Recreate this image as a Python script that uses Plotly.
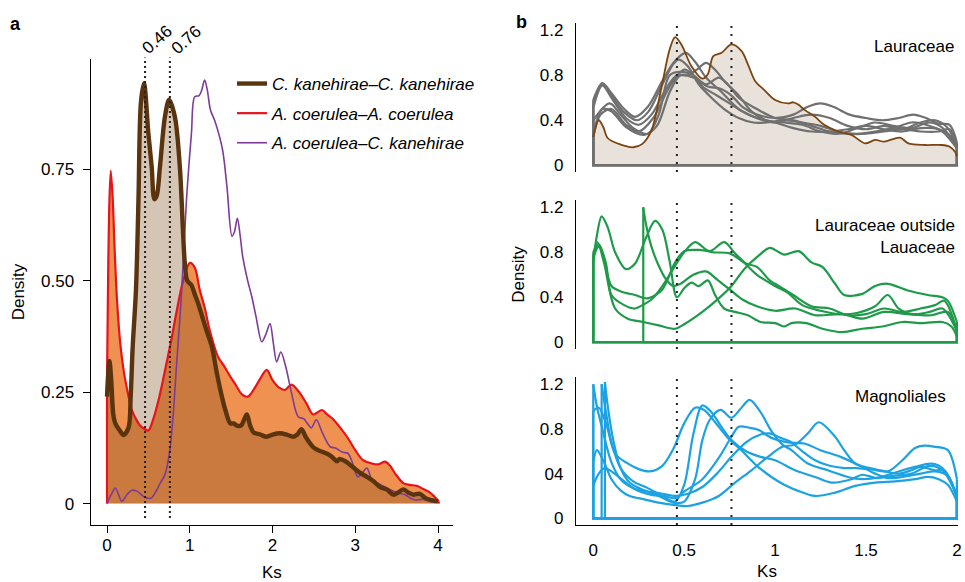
import plotly.graph_objects as go

W, H = 965, 582

# ---------------- Panel a data ----------------
kk_ks = [0.0, 0.03, 0.05, 0.076, 0.1, 0.15, 0.2, 0.26, 0.286, 0.31, 0.35, 0.38, 0.41, 0.447, 0.5, 0.54, 0.572, 0.6, 0.64, 0.7,
         0.75, 0.82, 0.88, 0.94, 0.97, 1.02, 1.06, 1.1, 1.15, 1.2, 1.27, 1.32, 1.37, 1.43, 1.49, 1.53, 1.57, 1.62, 1.66, 1.69,
         1.73, 1.77, 1.85, 1.93, 2.0, 2.09, 2.17, 2.25, 2.3, 2.35, 2.4, 2.49, 2.55, 2.62, 2.68, 2.73, 2.78, 2.81, 2.88, 2.97,
         3.05, 3.14, 3.22, 3.3, 3.38, 3.46, 3.52, 3.58, 3.64, 3.7, 3.78, 3.85, 3.92, 4.0]
kk_dens = [0.24, 0.32, 0.28, 0.2, 0.18, 0.165, 0.154, 0.17, 0.24, 0.35, 0.48, 0.68, 0.9, 0.943, 0.83, 0.756, 0.683, 0.69, 0.756, 0.868,
           0.906, 0.868, 0.756, 0.54, 0.5, 0.49, 0.47, 0.45, 0.42, 0.39, 0.35, 0.3, 0.255, 0.21, 0.18, 0.18, 0.175, 0.175, 0.19, 0.2,
           0.175, 0.16, 0.155, 0.15, 0.155, 0.158, 0.155, 0.15, 0.155, 0.167, 0.15, 0.127, 0.12, 0.115, 0.11, 0.103, 0.095, 0.1, 0.095, 0.082,
           0.07, 0.06, 0.05, 0.037, 0.032, 0.02, 0.025, 0.032, 0.025, 0.02, 0.022, 0.012, 0.008, 0.005]

aa_ks = [0.0, 0.01, 0.025, 0.045, 0.07, 0.09, 0.12, 0.16, 0.2, 0.25, 0.3, 0.35, 0.4, 0.45, 0.5, 0.56, 0.62, 0.68, 0.72, 0.78,
         0.84, 0.92, 1.0, 1.06, 1.12, 1.18, 1.24, 1.34, 1.41, 1.49, 1.56, 1.63, 1.7, 1.77, 1.85, 1.93, 2.0, 2.08, 2.15, 2.23,
         2.33, 2.41, 2.49, 2.6, 2.66, 2.73, 2.82, 2.9, 3.0, 3.09, 3.2, 3.28, 3.36, 3.42, 3.48, 3.58, 3.66, 3.74, 3.82, 3.9,
         3.96, 4.01]
aa_dens = [0.28, 0.45, 0.65, 0.747, 0.68, 0.58, 0.46, 0.36, 0.3, 0.25, 0.21, 0.19, 0.175, 0.168, 0.164, 0.19, 0.23, 0.28, 0.316, 0.37,
           0.43, 0.5, 0.54, 0.53, 0.48, 0.44, 0.39, 0.33, 0.31, 0.285, 0.265, 0.245, 0.24, 0.255, 0.28, 0.3, 0.277, 0.26, 0.255, 0.267,
           0.248, 0.225, 0.2, 0.21, 0.2, 0.19, 0.17, 0.15, 0.12, 0.098, 0.09, 0.088, 0.094, 0.085, 0.068, 0.046, 0.042, 0.04, 0.033, 0.025,
           0.015, 0.005]

ak_ks = [0.0, 0.05, 0.1, 0.14, 0.18, 0.24, 0.3, 0.36, 0.45, 0.53, 0.6, 0.64, 0.7, 0.76, 0.8, 0.84, 0.9, 0.96, 1.02, 1.06,
         1.11, 1.14, 1.18, 1.21, 1.25, 1.3, 1.35, 1.4, 1.45, 1.51, 1.54, 1.575, 1.61, 1.64, 1.7, 1.75, 1.8, 1.87, 1.92, 1.97,
         2.01, 2.05, 2.1, 2.16, 2.23, 2.31, 2.38, 2.42, 2.47, 2.53, 2.6, 2.7, 2.76, 2.8, 2.85, 2.91, 2.97, 3.03, 3.09, 3.14,
         3.2, 3.28, 3.38, 3.5, 3.6, 3.67, 3.73, 3.82, 3.9, 3.97]
ak_dens = [0.0, 0.02, 0.035, 0.02, 0.005, 0.02, 0.03, 0.028, 0.015, 0.012, 0.03, 0.045, 0.065, 0.12, 0.2, 0.31, 0.47, 0.68, 0.83, 0.913,
           0.915, 0.925, 0.95, 0.93, 0.883, 0.86, 0.83, 0.79, 0.71, 0.6, 0.61, 0.64, 0.6, 0.554, 0.5, 0.464, 0.42, 0.363, 0.38, 0.404,
           0.36, 0.318, 0.34, 0.307, 0.248, 0.195, 0.19, 0.18, 0.17, 0.188, 0.16, 0.127, 0.125, 0.12, 0.115, 0.113, 0.09, 0.06, 0.07, 0.08,
           0.055, 0.045, 0.035, 0.025, 0.02, 0.012, 0.008, 0.01, 0.005, 0.002]

peak_ks = [0.46, 0.76]
peak_labels = ["0.46", "0.76"]

a_xticks = [0, 1, 2, 3, 4]
a_yticks = [0, 0.25, 0.5, 0.75]
a_yticktext = ["0", "0.25", "0.50", "0.75"]

legend_names = ["<i>C. kanehirae–C. kanehirae</i>", "<i>A. coerulea–A. coerulea</i>", "<i>A. coerulea–C. kanehirae</i>"]

# ---------------- Panel b data ----------------
b_xticks = [0, 0.5, 1, 1.5, 2]
b_xticktext = ["0", "0.5", "1", "1.5", "2"]
b_yticks = [0, 0.4, 0.8, 1.2]
b_yticktext_1 = ["0", "0.4", "0.8", "1.2"]
b_yticktext_2 = ["0", "0.4", "0.8", "1.2"]
b_yticktext_3 = ["0", "04", "0.8", "1.2"]
b_titles = ["Lauraceae", "Lauraceae outside<br>Lauaceae", "Magnoliales"]

# Lauraceae: C. kanehirae (brown) and other Lauraceae (gray)
laur_ck_ks = [0.0, 0.03, 0.055, 0.08, 0.14, 0.22, 0.27, 0.32, 0.376, 0.42, 0.45, 0.486, 0.54, 0.6, 0.63, 0.66, 0.706, 0.76, 0.816, 0.85,
              0.89, 0.94, 1.0, 1.07, 1.1, 1.127, 1.164, 1.22, 1.27, 1.347, 1.42, 1.495, 1.55, 1.6, 1.687, 1.733, 1.825, 1.917, 1.96, 1.99, 2.0]
laur_ck_dens = [0.25, 0.40, 0.34, 0.24, 0.19, 0.16, 0.19, 0.31, 0.70, 1.03, 1.14, 1.07, 0.88, 0.77, 0.81, 0.97, 1.0, 1.075, 1.015, 0.9,
                0.75, 0.67, 0.58, 0.55, 0.56, 0.54, 0.49, 0.43, 0.36, 0.30, 0.27, 0.195, 0.225, 0.21, 0.245, 0.195, 0.18, 0.18, 0.165, 0.12, 0.08]

laur_g1_ks = [0, 0.05, 0.1, 0.17, 0.23, 0.3, 0.38, 0.45, 0.51, 0.56, 0.62, 0.7, 0.8, 0.9, 1.0, 1.1, 1.2, 1.3, 1.4, 1.5, 1.6, 1.7, 1.8, 1.9, 1.97, 2.0]
laur_g1_dens = [0.58, 0.73, 0.64, 0.5, 0.43, 0.52, 0.75, 0.93, 1.0, 0.92, 0.78, 0.66, 0.5, 0.42, 0.38, 0.33, 0.3, 0.3, 0.32, 0.35, 0.32, 0.3, 0.33, 0.32, 0.25, 0.15]
laur_g2_ks = [0, 0.05, 0.1, 0.17, 0.24, 0.3, 0.38, 0.44, 0.47, 0.52, 0.58, 0.65, 0.72, 0.8, 0.88, 0.95, 1.05, 1.15, 1.25, 1.35, 1.45, 1.55, 1.65, 1.75, 1.83, 1.92, 2.0]
laur_g2_dens = [0.54, 0.72, 0.62, 0.47, 0.40, 0.47, 0.72, 0.9, 0.94, 0.88, 0.72, 0.6, 0.5, 0.42, 0.38, 0.38, 0.4, 0.38, 0.35, 0.3, 0.28, 0.3, 0.33, 0.38, 0.36, 0.3, 0.15]
laur_g3_ks = [0, 0.05, 0.1, 0.18, 0.25, 0.32, 0.4, 0.46, 0.52, 0.57, 0.62, 0.67, 0.72, 0.8, 0.87, 0.95, 1.05, 1.15, 1.25, 1.35, 1.45, 1.55, 1.65, 1.75, 1.85, 1.93, 2.0]
laur_g3_dens = [0.51, 0.71, 0.6, 0.42, 0.36, 0.45, 0.68, 0.8, 0.8, 0.85, 0.91, 0.85, 0.75, 0.62, 0.48, 0.4, 0.38, 0.36, 0.3, 0.28, 0.33, 0.38, 0.35, 0.33, 0.38, 0.32, 0.15]
laur_g4_ks = [0, 0.09, 0.15, 0.22, 0.3, 0.36, 0.42, 0.48, 0.55, 0.62, 0.69, 0.74, 0.8, 0.9, 1.0, 1.1, 1.2, 1.3, 1.4, 1.5, 1.6, 1.7, 1.8, 1.9, 1.96, 2.0]
laur_g4_dens = [0.40, 0.55, 0.45, 0.33, 0.28, 0.45, 0.8, 0.83, 0.8, 0.72, 0.78, 0.72, 0.6, 0.5, 0.42, 0.4, 0.35, 0.3, 0.28, 0.28, 0.3, 0.32, 0.3, 0.3, 0.32, 0.15]
laur_g5_ks = [0, 0.05, 0.1, 0.18, 0.28, 0.35, 0.42, 0.48, 0.55, 0.63, 0.7, 0.76, 0.82, 0.9, 1.0, 1.1, 1.18, 1.25, 1.32, 1.41, 1.5, 1.59, 1.68, 1.76, 1.83, 1.9, 1.96, 2.0]
laur_g5_dens = [0.28, 0.5, 0.48, 0.34, 0.27, 0.35, 0.65, 0.8, 0.78, 0.7, 0.68, 0.62, 0.52, 0.45, 0.42, 0.45, 0.52, 0.55, 0.52, 0.45, 0.42, 0.4, 0.42, 0.45, 0.42, 0.37, 0.36, 0.2]
laur_g6_ks = [0, 0.04, 0.1, 0.18, 0.25, 0.33, 0.42, 0.5, 0.55, 0.6, 0.68, 0.75, 0.82, 0.9, 1.0, 1.1, 1.2, 1.3, 1.4, 1.5, 1.6, 1.7, 1.8, 1.88, 1.95, 2.0]
laur_g6_dens = [0.25, 0.45, 0.5, 0.36, 0.3, 0.42, 0.7, 0.85, 0.8, 0.7, 0.62, 0.55, 0.48, 0.42, 0.38, 0.42, 0.45, 0.42, 0.35, 0.32, 0.35, 0.32, 0.38, 0.4, 0.33, 0.15]

# Lauraceae outside Lauraceae (green)
out_1_ks = [0, 0.02, 0.046, 0.08, 0.12, 0.18, 0.23, 0.29, 0.34, 0.38, 0.42, 0.46, 0.5, 0.54, 0.58, 0.63, 0.67, 0.72, 0.78, 0.85,
            0.92, 1.0, 1.05, 1.09, 1.17, 1.26, 1.37, 1.48, 1.59, 1.7, 1.81, 1.92, 1.97, 2.0]
out_1_dens = [0.70, 0.95, 1.12, 1.02, 0.8, 0.65, 0.7, 0.93, 1.08, 1.0, 0.72, 0.40, 0.48, 0.53, 0.5, 0.55, 0.42, 0.3, 0.27, 0.24,
              0.18, 0.17, 0.14, 0.17, 0.17, 0.12, 0.09, 0.12, 0.14, 0.18, 0.17, 0.18, 0.14, 0.05]
out_2_ks = [0.275, 0.29, 0.32, 0.36, 0.4, 0.44, 0.48, 0.55, 0.62, 0.68, 0.75, 0.82, 0.9, 1.0, 1.11, 1.22, 1.37, 1.48, 1.6, 1.73, 1.86, 1.95, 2.0]
out_2_dens = [1.2, 1.05, 0.85, 0.68, 0.56, 0.5, 0.52, 0.6, 0.63, 0.56, 0.47, 0.38, 0.32, 0.28, 0.3, 0.24, 0.25, 0.21, 0.27, 0.25, 0.24, 0.27, 0.1]
out_3_ks = [0, 0.02, 0.05, 0.1, 0.156, 0.23, 0.3, 0.38, 0.45, 0.5, 0.59, 0.66, 0.75, 0.84, 0.9, 0.97, 1.0, 1.1, 1.2, 1.3, 1.4, 1.5, 1.6, 1.7, 1.8, 1.88, 1.93, 2.0]
out_3_dens = [0.75, 0.89, 0.8, 0.5, 0.45, 0.42, 0.39, 0.47, 0.71, 0.81, 0.82, 0.8, 0.79, 0.7, 0.67, 0.55, 0.52, 0.42, 0.32, 0.3, 0.24, 0.25, 0.3, 0.27, 0.3, 0.33, 0.37, 0.1]
out_4_ks = [0, 0.03, 0.07, 0.1, 0.17, 0.23, 0.27, 0.32, 0.38, 0.45, 0.5, 0.56, 0.64, 0.72, 0.78, 0.83, 0.9, 1.0, 1.07, 1.15,
            1.25, 1.35, 1.45, 1.55, 1.62, 1.68, 1.76, 1.85, 1.92, 2.0]
out_4_dens = [0.8, 0.87, 0.7, 0.42, 0.33, 0.3, 0.33, 0.38, 0.5, 0.68, 0.8, 0.89, 0.81, 0.89, 0.79, 0.71, 0.6, 0.5, 0.44, 0.33,
              0.28, 0.25, 0.26, 0.32, 0.42, 0.3, 0.25, 0.27, 0.3, 0.1]
out_5_ks = [0, 0.03, 0.06, 0.12, 0.19, 0.275, 0.36, 0.45, 0.5, 0.6, 0.69, 0.76, 0.83, 0.91, 0.97, 1.05, 1.13, 1.2, 1.26, 1.33,
            1.38, 1.48, 1.55, 1.62, 1.73, 1.84, 1.92, 1.95, 2.0]
out_5_dens = [0.75, 0.85, 0.7, 0.3, 0.21, 0.18, 0.15, 0.12, 0.16, 0.27, 0.39, 0.5, 0.65, 0.77, 0.84, 0.78, 0.81, 0.71, 0.67, 0.52,
              0.42, 0.43, 0.5, 0.52, 0.46, 0.42, 0.4, 0.37, 0.18]

# Magnoliales (blue)
mag_1_ks = [0, 0.03, 0.07, 0.12, 0.18, 0.25, 0.31, 0.38, 0.44, 0.5, 0.56, 0.61, 0.67, 0.74, 0.82, 0.9, 0.98, 1.05, 1.12, 1.22,
            1.33, 1.44, 1.55, 1.66, 1.77, 1.84, 1.9, 1.95, 2.0]
mag_1_dens = [0.96, 0.99, 0.85, 0.58, 0.5, 0.44, 0.42, 0.47, 0.62, 0.85, 0.99, 0.97, 0.86, 0.72, 0.6, 0.47, 0.37, 0.3, 0.25, 0.2,
              0.23, 0.29, 0.32, 0.33, 0.35, 0.37, 0.35, 0.3, 0.15]
mag_2_ks = [0.046, 0.07, 0.1, 0.15, 0.22, 0.3, 0.38, 0.45, 0.5, 0.55, 0.6, 0.65, 0.7, 0.76, 0.84, 0.92, 1.0, 1.11, 1.22, 1.31,
            1.42, 1.48, 1.56, 1.65, 1.75, 1.85, 1.92, 2.0]
mag_2_dens = [1.2, 0.95, 0.68, 0.45, 0.33, 0.27, 0.2, 0.15, 0.3, 0.75, 1.01, 0.95, 0.83, 0.7, 0.6, 0.55, 0.52, 0.43, 0.37, 0.32,
              0.35, 0.39, 0.36, 0.38, 0.4, 0.47, 0.43, 0.2]
mag_3_ks = [0.064, 0.08, 0.11, 0.15, 0.2, 0.28, 0.36, 0.44, 0.5, 0.56, 0.6, 0.64, 0.7, 0.76, 0.81, 0.86, 0.92, 0.98, 1.04, 1.09,
            1.18, 1.29, 1.4, 1.48, 1.58, 1.7, 1.77, 1.86, 1.92, 2.0]
mag_3_dens = [1.22, 1.0, 0.7, 0.45, 0.32, 0.25, 0.2, 0.14, 0.15, 0.35, 0.7, 0.88, 0.97, 0.9, 0.98, 1.06, 0.95, 0.78, 0.66, 0.61,
              0.49, 0.43, 0.37, 0.35, 0.37, 0.43, 0.46, 0.49, 0.45, 0.2]
mag_4_ks = [0, 0.03, 0.064, 0.1, 0.14, 0.23, 0.32, 0.39, 0.45, 0.5, 0.6, 0.69, 0.76, 0.8, 0.86, 0.91, 0.98, 1.07, 1.16, 1.25,
            1.36, 1.48, 1.55, 1.62, 1.7, 1.8, 1.88, 1.95, 2.0]
mag_4_dens = [0.29, 0.4, 0.45, 0.42, 0.37, 0.26, 0.21, 0.2, 0.18, 0.24, 0.35, 0.54, 0.73, 0.82, 0.81, 0.79, 0.72, 0.68, 0.67, 0.61,
              0.55, 0.46, 0.4, 0.36, 0.37, 0.4, 0.42, 0.38, 0.18]
mag_5_ks = [0, 0.02, 0.06, 0.1, 0.15, 0.2, 0.28, 0.36, 0.44, 0.52, 0.6, 0.69, 0.78, 0.87, 0.96, 1.04, 1.11, 1.18, 1.24, 1.33,
            1.38, 1.44, 1.49, 1.58, 1.68, 1.75, 1.8, 1.88, 1.93, 2.0]
mag_5_dens = [0.5, 0.61, 0.5, 0.35, 0.25, 0.2, 0.17, 0.14, 0.12, 0.11, 0.14, 0.2, 0.32, 0.43, 0.55, 0.64, 0.66, 0.76, 0.86, 0.73,
              0.61, 0.49, 0.46, 0.43, 0.4, 0.43, 0.46, 0.43, 0.43, 0.2]
mag_6_ks = [0, 0.02, 0.05, 0.1, 0.15, 0.22, 0.3, 0.38, 0.45, 0.52, 0.6, 0.68, 0.76, 0.84, 0.92, 0.97, 1.03, 1.08, 1.15, 1.22,
            1.3, 1.38, 1.45, 1.52, 1.62, 1.7, 1.77, 1.82, 1.88, 1.95, 2.0]
mag_6_dens = [1.2, 1.0, 0.8, 0.5, 0.35, 0.27, 0.24, 0.22, 0.2, 0.22, 0.28, 0.4, 0.55, 0.68, 0.75, 0.76, 0.72, 0.69, 0.6, 0.52,
              0.47, 0.45, 0.45, 0.44, 0.42, 0.52, 0.63, 0.65, 0.64, 0.61, 0.35]

# ---------------- Styles ----------------
FONT = "Liberation Sans, Arial, Helvetica, sans-serif"
FS = 17
BROWN_A = "#5a340e"
RED = "#e8141c"
PURPLE = "#7d3b98"
ORANGE_FILL = "rgb(239,145,80)"
BROWN_FILL = "rgba(124,75,25,0.32)"
GRAY = "#707070"
BROWN_B = "#7a4511"
BEIGE = "#e9e2da"
GREEN = "#1f9a4a"
BLUE = "#1ca2e2"


def px2x(p):
    return p / W


def px2y(p):
    return 1 - p / H


fig = go.Figure()


def curve(ks, dens, color, width, xa, ya, **kw):
    fig.add_trace(go.Scatter(x=ks, y=dens, mode="lines", xaxis=xa, yaxis=ya,
                             line=dict(color=color, width=width, shape="spline", smoothing=0.9),
                             hoverinfo="skip", **kw))


def edges(ks, dens, color, width, xa, ya, base=True):
    if base:
        ex = [ks[-1], ks[-1], ks[0], ks[0]]
        ey = [dens[-1], 0, 0, dens[0]]
    else:
        ex = [ks[-1], ks[-1], None, ks[0], ks[0]]
        ey = [dens[-1], 0, None, 0, dens[0]]
    fig.add_trace(go.Scatter(x=ex, y=ey, mode="lines", xaxis=xa, yaxis=ya, showlegend=False,
                             line=dict(color=color, width=width), hoverinfo="skip"))


# ---- Panel a ----
for ks, dens, fc in [(aa_ks, aa_dens, ORANGE_FILL), (kk_ks, kk_dens, BROWN_FILL)]:
    fig.add_trace(go.Scatter(x=ks, y=dens, mode="lines", xaxis="x", yaxis="y", fill="tozeroy",
                             fillcolor=fc, line=dict(width=0, shape="spline", smoothing=0.9),
                             showlegend=False, hoverinfo="skip"))

edges(aa_ks, aa_dens, RED, 2.2, "x", "y", base=False)
curve(aa_ks, aa_dens, RED, 2.2, "x", "y", name=legend_names[1], legendrank=2,
      legendgroup="g2", showlegend=True)
curve(ak_ks, ak_dens, PURPLE, 1.6, "x", "y", name=legend_names[2], legendrank=3,
      legendgroup="g3", showlegend=True)
curve(kk_ks, kk_dens, BROWN_A, 4.4, "x", "y", name=legend_names[0], legendrank=1,
      legendgroup="g1", showlegend=True)

# ---- Panel b: Lauraceae ----
fig.add_trace(go.Scatter(x=laur_ck_ks, y=laur_ck_dens, mode="lines", xaxis="x2", yaxis="y2", fill="tozeroy",
                         fillcolor=BEIGE, line=dict(width=0, shape="spline", smoothing=0.9),
                         showlegend=False, hoverinfo="skip"))
gray_sets = [(laur_g1_ks, laur_g1_dens), (laur_g2_ks, laur_g2_dens), (laur_g3_ks, laur_g3_dens),
             (laur_g4_ks, laur_g4_dens), (laur_g5_ks, laur_g5_dens), (laur_g6_ks, laur_g6_dens)]
for ks, dens in gray_sets:
    curve(ks, dens, GRAY, 2.2, "x2", "y2", showlegend=False)
    edges(ks, dens, GRAY, 2.2, "x2", "y2")
curve(laur_ck_ks, laur_ck_dens, BROWN_B, 1.8, "x2", "y2", showlegend=False)

# ---- Panel b: outside ----
green_sets = [(out_1_ks, out_1_dens), (out_2_ks, out_2_dens), (out_3_ks, out_3_dens),
              (out_4_ks, out_4_dens), (out_5_ks, out_5_dens)]
for ks, dens in green_sets:
    curve(ks, dens, GREEN, 2.2, "x3", "y3", showlegend=False)
    edges(ks, dens, GREEN, 2.2, "x3", "y3")

# ---- Panel b: Magnoliales ----
blue_sets = [(mag_1_ks, mag_1_dens), (mag_2_ks, mag_2_dens), (mag_3_ks, mag_3_dens),
             (mag_4_ks, mag_4_dens), (mag_5_ks, mag_5_dens), (mag_6_ks, mag_6_dens)]
for ks, dens in blue_sets:
    curve(ks, dens, BLUE, 2.2, "x4", "y4", showlegend=False)
    edges(ks, dens, BLUE, 2.2, "x4", "y4")

# ---------------- Layout ----------------
axis_common = dict(showgrid=False, zeroline=False, automargin=False, showline=True,
                   linecolor="black", linewidth=1.3, tickfont=dict(size=FS, color="black"))

a_xdom = [px2x(90.7), px2x(453)]
a_ydom = [px2y(525), px2y(59)]
b_xdom = [px2x(576), px2x(958)]
b_ydoms = [[px2y(172), px2y(23)], [px2y(349), px2y(200)], [px2y(525), px2y(377)]]
b_yrange = [-0.06, 1.265]
b_xrange = [-0.095, 2.006]

layout = dict(
    width=W, height=H, margin=dict(l=0, r=0, t=0, b=0),
    paper_bgcolor="white", plot_bgcolor="white",
    font=dict(family=FONT, size=FS, color="black"),
    showlegend=True,
    legend=dict(x=px2x(232), y=px2y(66), xanchor="left", yanchor="top",
                bgcolor="rgba(0,0,0,0)", font=dict(size=FS), traceorder="grouped",
                tracegroupgap=4.5, itemwidth=30),
    xaxis=dict(axis_common, domain=a_xdom, range=[-0.197, 4.181], anchor="y",
               tickvals=a_xticks, ticks="outside", ticklen=7, tickwidth=1.3, tickcolor="black",
               ticklabelstandoff=-3, title=dict(text="Ks", standoff=21, font=dict(size=FS))),
    yaxis=dict(axis_common, domain=a_ydom, range=[-0.048, 0.9975], anchor="x",
               tickvals=a_yticks, ticktext=a_yticktext, ticks="outside", ticklen=7, tickwidth=1.3,
               tickcolor="black", ticklabelstandoff=5,
               title=dict(text="Density", standoff=12, font=dict(size=FS))),
    xaxis2=dict(axis_common, domain=b_xdom, range=b_xrange, anchor="y2", visible=False),
    yaxis2=dict(axis_common, domain=b_ydoms[0], range=b_yrange, anchor="x2",
                tickvals=b_yticks, ticktext=b_yticktext_1, ticks="", ticklabelstandoff=8),
    xaxis3=dict(axis_common, domain=b_xdom, range=b_xrange, anchor="y3", visible=False),
    yaxis3=dict(axis_common, domain=b_ydoms[1], range=b_yrange, anchor="x3",
                tickvals=b_yticks, ticktext=b_yticktext_2, ticks="", ticklabelstandoff=8,
                title=dict(text="Density", standoff=10, font=dict(size=FS))),
    xaxis4=dict(axis_common, domain=b_xdom, range=b_xrange, anchor="y4",
                tickvals=b_xticks, ticktext=b_xticktext, ticks="", ticklabelstandoff=9,
                title=dict(text="Ks", standoff=6, font=dict(size=FS))),
    yaxis4=dict(axis_common, domain=b_ydoms[2], range=b_yrange, anchor="x4",
                tickvals=b_yticks, ticktext=b_yticktext_3, ticks="", ticklabelstandoff=8),
)
fig.update_layout(**layout)

shapes = []
for k in peak_ks:
    shapes.append(dict(type="line", xref="x", yref="y domain", x0=k, x1=k, y0=0.015, y1=1.003,
                       line=dict(color="#222222", width=2, dash="2px,3px")))
    for xa, ya in [("x2", "y2"), ("x3", "y3"), ("x4", "y4")]:
        shapes.append(dict(type="line", xref=xa, yref=ya + " domain", x0=k, x1=k, y0=0, y1=1,
                           line=dict(color="#222222", width=2, dash="2px,6px")))
fig.update_layout(shapes=shapes)

annotations = []
for k, lab, sh in zip(peak_ks, peak_labels, [12.5, 17]):
    annotations.append(dict(x=k, xref="x", y=px2y(40), yref="paper", text=lab, showarrow=False,
                            textangle=-42, xanchor="center", yanchor="middle", xshift=sh,
                            font=dict(size=FS)))
annotations.append(dict(x=px2x(15), y=px2y(24), xref="paper", yref="paper", text="<b>a</b>",
                        showarrow=False, xanchor="center", yanchor="middle", font=dict(size=18)))
annotations.append(dict(x=px2x(521), y=px2y(22), xref="paper", yref="paper", text="<b>b</b>",
                        showarrow=False, xanchor="center", yanchor="middle", font=dict(size=18)))
for (xa, ya), txt, yy, xs in zip([("x2", "y2"), ("x3", "y3"), ("x4", "y4")], b_titles,
                                 [0.839, 0.758, 0.865], [-2, -1, -10]):
    annotations.append(dict(x=1, xref=xa + " domain", y=yy, yref=ya + " domain", text=txt,
                            showarrow=False, xanchor="right", yanchor="middle", align="right",
                            xshift=xs, font=dict(size=FS)))
fig.update_layout(annotations=annotations)

fig.write_html("out.html", config={"displayModeBar": False},
               post_script="document.body.style.margin='0px';document.body.style.overflow='hidden';")
